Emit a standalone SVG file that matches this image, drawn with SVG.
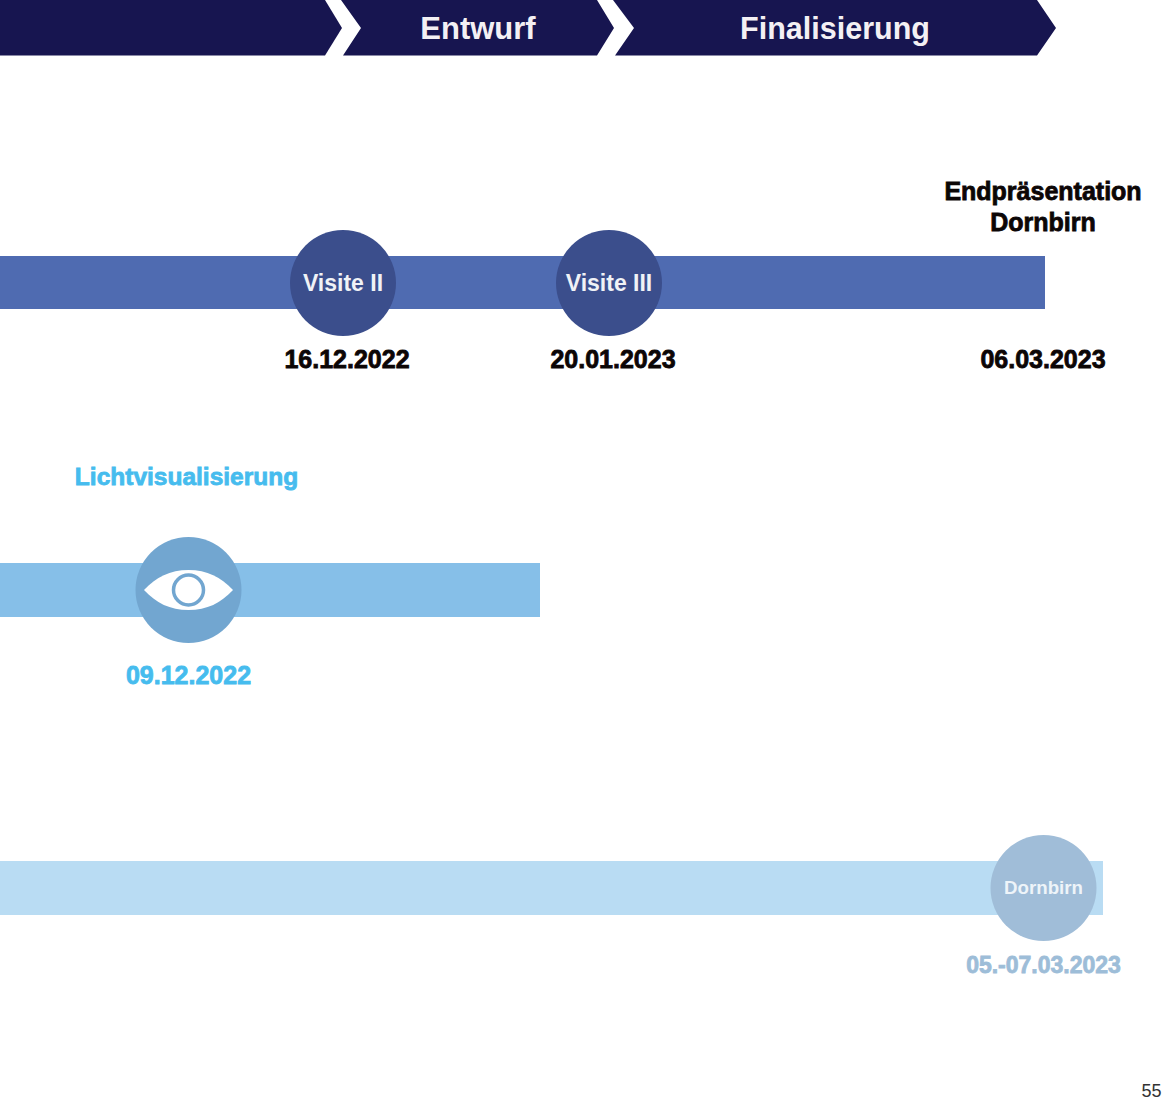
<svg xmlns="http://www.w3.org/2000/svg" width="1163" height="1099" viewBox="0 0 1163 1099">
<style>
text{font-family:"Liberation Sans",Arial,sans-serif;text-anchor:middle}
.b{font-weight:700;font-size:25px;stroke-width:.8px;paint-order:stroke}
.k{fill:#0c0606;stroke:#0c0606}
.c{fill:#46bcee;stroke:#46bcee}
.g{fill:#9dbdd8;stroke:#9dbdd8}
.h{font-weight:700;fill:#f4f0f4}
.w{font-weight:700;font-size:23px;fill:#f0f2f6}
</style>
<rect width="1163" height="1099" fill="#fff"/>
<g id="connectors">
<rect x="0" y="256" width="1045" height="53" fill="#4f6bb1"/>
<rect x="0" y="563" width="540" height="54" fill="#86bfe8"/>
<rect x="0" y="861" width="1103" height="54" fill="#b9dcf3"/>
</g>
<g id="phase-left"><path d="M0 0H325L342 28 325 55.500H0Z" fill="#171550"/></g>
<g id="phase-entwurf"><path d="M341 0H597L614 28 597 55.500H343L361 28Z" fill="#171550"/><text class="h" font-size="31" x="478" y="38.500">Entwurf</text></g>
<g id="phase-finalisierung"><path d="M613 0H1037L1056 28 1037 55.500H615L634 28Z" fill="#171550"/><text class="h" font-size="30.500" x="835" y="38.500">Finalisierung</text></g>
<g id="visite2"><circle cx="343" cy="283" r="53" fill="#3b4e8c"/><text class="w" x="343" y="290.500">Visite II</text><text class="b k" x="347" y="367.500">16.12.2022</text></g>
<g id="visite3"><circle cx="609" cy="283" r="53" fill="#3b4e8c"/><text class="w" x="609" y="290.500">Visite III</text><text class="b k" x="613" y="367.500">20.01.2023</text></g>
<g id="endpraesentation"><text class="b k" x="1043" y="199.500">Endpräsentation</text><text class="b k" x="1043" y="230.500">Dornbirn</text><text class="b k" x="1043" y="367.500">06.03.2023</text></g>
<g id="lichtvisualisierung"><text class="b c" x="186.500" y="485" style="font-size:24.500px">Lichtvisualisierung</text><circle cx="188.500" cy="590" r="53" fill="#72a6d0"/><path d="M144 590C156 577 170 570 188.500 570C207 570 221 577 233 590C221 603 207 610 188.500 610C170 610 156 603 144 590Z" fill="#fff"/><circle cx="188.500" cy="590" r="15" fill="#fff" stroke="#72a6d0" stroke-width="3.500"/><text class="b c" x="188.500" y="683.500">09.12.2022</text></g>
<g id="dornbirn"><circle cx="1043.500" cy="888" r="53" fill="#a0bdd8"/><text x="1043.500" y="894" font-size="18.700" font-weight="700" fill="#eef4f9">Dornbirn</text><text class="b g" x="1043.500" y="973" style="font-size:23px">05.-07.03.2023</text></g>
<g id="page"><text x="1151.500" y="1097" font-size="18" fill="#333">55</text></g>
</svg>
